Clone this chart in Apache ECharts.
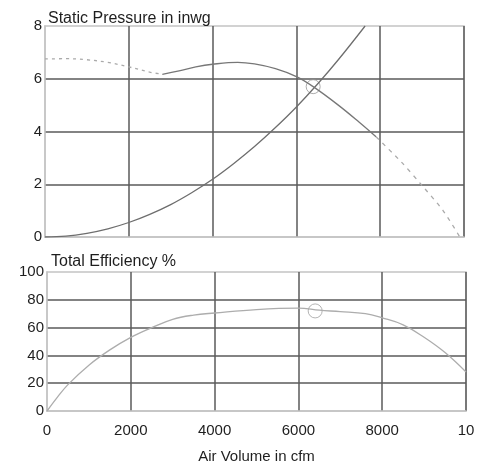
<!DOCTYPE html>
<html>
<head>
<meta charset="utf-8">
<script src="https://cdn.jsdelivr.net/npm/echarts@6/dist/echarts.min.js"></script>
<style>
  html, body { margin: 0; padding: 0; background: #fff; }
  #main { width: 483px; height: 465px; }
</style>
</head>
<body>
<div id="main"></div>
<script>
// values
var xTicks = ['0', '2000', '4000', '6000', '8000', '10'];

// system resistance curve (static pressure, inwg)
var systemCurve = [[0, 0], [500, 0.03], [1000, 0.14], [1500, 0.31], [2000, 0.55], [2500, 0.86],
    [3000, 1.23], [3500, 1.68], [4000, 2.19], [4500, 2.78], [5000, 3.43], [5500, 4.15],
    [6000, 4.93], [6500, 5.79], [7000, 6.72], [7640, 8]];

// fan pressure curve, split in dashed / solid / dashed parts
var fanStall = [[0, 6.75], [500, 6.76], [1000, 6.72], [1500, 6.62], [2000, 6.45], [2500, 6.25], [2800, 6.17]];
var fanCurve = [[2800, 6.17], [3200, 6.3], [3600, 6.45], [4000, 6.55], [4600, 6.62], [5000, 6.56],
    [5500, 6.38], [6000, 6.08], [6400, 5.7], [7000, 5.0], [7500, 4.35], [7900, 3.8]];
var fanFreeFlow = [[7900, 3.8], [8500, 2.85], [9000, 1.95], [9500, 1.0], [9900, 0]];

// total efficiency %
var efficiency = [[0, 0], [250, 10], [500, 19], [1000, 33], [1500, 44], [2000, 53], [2500, 60],
    [3000, 66], [3500, 69], [4000, 70.5], [5000, 73], [6000, 74], [6500, 72.5], [7000, 71.5],
    [7600, 70], [8000, 67], [8500, 62], [9000, 53], [9500, 42], [10000, 28]];

// operating point
var opPressure = [[6400, 5.7]];
var opEfficiency = [[6400, 72]];

var chart = echarts.init(document.getElementById('main'), null, { renderer: 'canvas' });

var txt = '#1e1e1e';
var gridCol = '#5a5a5a';
var edgeCol = '#c4c4c4';
var fnt = 'Arial, "Liberation Sans", sans-serif';

function xAxisCfg(idx, showLabels) {
    return {
        type: 'value', gridIndex: idx, min: 0, max: 10000, interval: 2000,
        axisLine: { show: true, lineStyle: { color: edgeCol, width: 1.5 } },
        axisTick: { show: false },
        splitLine: { show: true, showMinLine: false, lineStyle: { color: gridCol, width: 1.5 } },
        axisLabel: {
            show: showLabels, color: txt, fontSize: 15, fontFamily: fnt, margin: 12,
            formatter: function (v) { return xTicks[Math.round(v / 2000)]; }
        },
        name: showLabels ? 'Air Volume in cfm' : '',
        nameLocation: 'middle', nameGap: 38,
        nameTextStyle: { color: txt, fontSize: 15, fontFamily: fnt }
    };
}

function yAxisCfg(idx, max, interval) {
    return {
        type: 'value', gridIndex: idx, min: 0, max: max, interval: interval,
        axisLine: { show: true, lineStyle: { color: edgeCol, width: 1.5 } },
        axisTick: { show: false },
        splitLine: { show: true, showMinLine: false, showMaxLine: false, lineStyle: { color: gridCol, width: 1.5 } },
        axisLabel: { color: txt, fontSize: 15, fontFamily: fnt, margin: 3 }
    };
}

var option = {
    backgroundColor: '#fff',
    animation: false,
    title: [
        { text: 'Static Pressure in inwg', left: 43, top: 6,
          textStyle: { color: txt, fontSize: 16, fontWeight: 'normal', fontFamily: fnt } },
        { text: 'Total Efficiency %', left: 46, top: 249,
          textStyle: { color: txt, fontSize: 16, fontWeight: 'normal', fontFamily: fnt } }
    ],
    grid: [
        { left: 45, right: 19, top: 26, height: 211, show: true, borderColor: edgeCol, borderWidth: 1.5 },
        { left: 47, right: 17, top: 272, height: 139, show: true, borderColor: edgeCol, borderWidth: 1.5 }
    ],
    xAxis: [xAxisCfg(0, false), xAxisCfg(1, true)],
    yAxis: [yAxisCfg(0, 8, 2), yAxisCfg(1, 100, 20)],
    series: [
        { type: 'line', xAxisIndex: 0, yAxisIndex: 0, data: systemCurve, smooth: 0.4, showSymbol: false,
          lineStyle: { color: '#6e6e6e', width: 1.3 } },
        { type: 'line', xAxisIndex: 0, yAxisIndex: 0, data: fanStall, smooth: 0.4, showSymbol: false,
          lineStyle: { color: '#aaa', width: 1.3, type: [3, 4] } },
        { type: 'line', xAxisIndex: 0, yAxisIndex: 0, data: fanCurve, smooth: 0.4, showSymbol: false,
          lineStyle: { color: '#777', width: 1.3 } },
        { type: 'line', xAxisIndex: 0, yAxisIndex: 0, data: fanFreeFlow, smooth: 0.3, showSymbol: false,
          lineStyle: { color: '#aaa', width: 1.3, type: [4, 5] } },
        { type: 'scatter', xAxisIndex: 0, yAxisIndex: 0, data: opPressure, symbol: 'circle', symbolSize: 14,
          itemStyle: { color: 'rgba(0,0,0,0)', borderColor: '#999', borderWidth: 1 } },
        { type: 'line', xAxisIndex: 1, yAxisIndex: 1, data: efficiency, smooth: 0.4, showSymbol: false,
          lineStyle: { color: '#adadad', width: 1.3 } },
        { type: 'scatter', xAxisIndex: 1, yAxisIndex: 1, data: opEfficiency, symbol: 'circle', symbolSize: 14,
          itemStyle: { color: 'rgba(0,0,0,0)', borderColor: '#a0a0a0', borderWidth: 1 } }
    ]
};

chart.setOption(option);
</script>
</body>
</html>
